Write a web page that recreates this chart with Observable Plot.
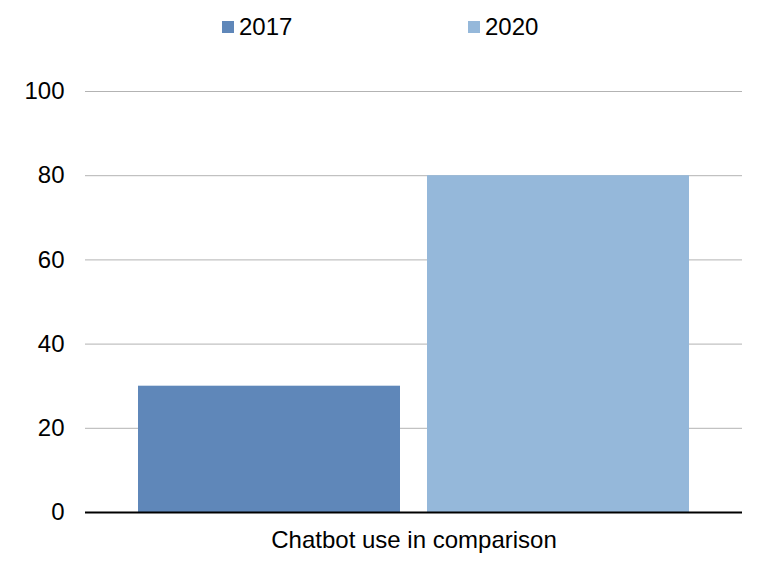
<!DOCTYPE html>
<html>
<head>
<meta charset="utf-8">
<script src="https://cdn.jsdelivr.net/npm/d3@7"></script>
<script src="https://cdn.jsdelivr.net/npm/@observablehq/plot@0.6"></script>
<style>
  html, body { margin: 0; padding: 0; background: #fff; }
  body { width: 770px; height: 561px; overflow: hidden; font-family: "Liberation Sans", Arial, sans-serif; }
  #legend { position: relative; height: 50px; font-size: 24px; color: #000; }
  .item { position: absolute; top: 13px; display: flex; align-items: center; line-height: 28px; }
  .sw { width: 12px; height: 12px; margin-right: 5px; }
</style>
</head>
<body>
<div id="legend"></div>
<div id="chart"></div>
<script>
const years = ["2017", "2020"];
const values = [30, 80];
const colors = ["#5f87b9", "#95b8da"];
const yTicks = [0, 20, 40, 60, 80, 100];
const category = "Chatbot use in comparison";

const data = years.map((y, i) => ({year: y, value: values[i]}));

const legend = document.getElementById("legend");
const legendX = [222, 468];
years.forEach((y, i) => {
  const it = document.createElement("div");
  it.className = "item";
  it.style.left = legendX[i] + "px";
  it.innerHTML = `<div class="sw" style="background:${colors[i]}"></div><span>${y}</span>`;
  legend.appendChild(it);
});

const chart = Plot.plot({
  width: 770,
  height: 511,
  marginTop: 41,
  marginBottom: 49,
  marginLeft: 85,
  marginRight: 28,
  style: {fontFamily: "Liberation Sans, Arial, sans-serif", fontSize: "24px", color: "#000", background: "#fff"},
  x: {domain: years, paddingInner: 0.095, paddingOuter: 0.182, axis: null},
  y: {domain: [0, 100], ticks: yTicks},
  color: {domain: years, range: colors},
  marks: [
    Plot.gridY(yTicks.filter(t => t > 0), {stroke: "#b3b3b3", strokeOpacity: 1, strokeWidth: 1}),
    Plot.barY(data, {x: "year", y: "value", fill: "year"}),
    Plot.ruleY([0], {stroke: "#000", strokeWidth: 2}),
    Plot.axisY(yTicks, {tickSize: 0, tickPadding: 21, label: null, fontSize: 24}),
    Plot.text([category], {frameAnchor: "bottom", dy: 35, fontSize: 24, fill: "#000"})
  ]
});
document.getElementById("chart").appendChild(chart);
</script>
</body>
</html>
